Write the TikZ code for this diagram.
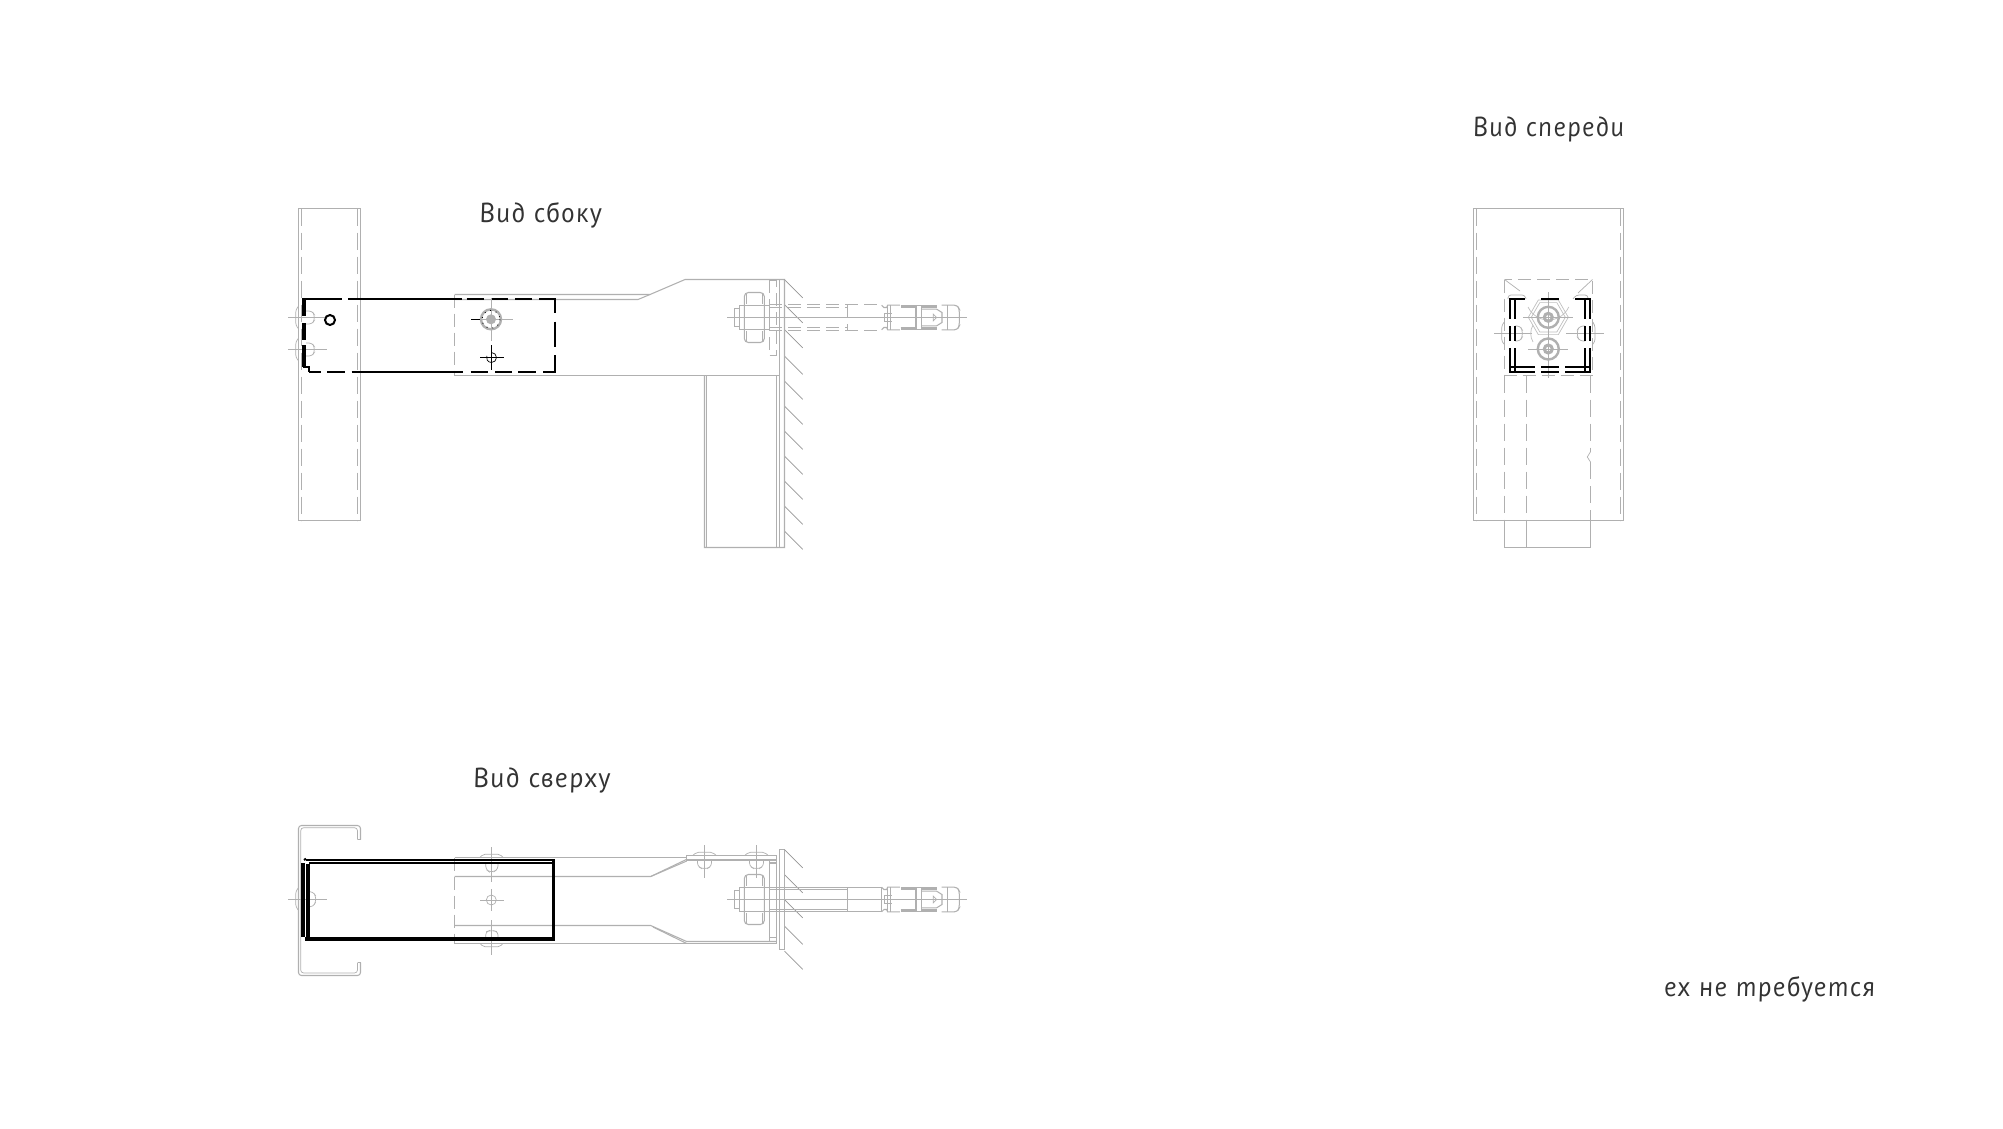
\documentclass[tikz,border=0pt]{standalone}
\usepackage{fontspec}
\newfontfamily\lblfam{PT Sans}[ItalicFeatures={FakeSlant=-0.18,LetterSpace=5}]
\definecolor{gln}{HTML}{B0B0B0}
\definecolor{txt}{HTML}{333333}
\tikzset{
 gl/.style={draw=gln,line width=1.05pt},
 gd/.style={draw=gln,line width=1.05pt,dash pattern=on 17pt off 7pt},
 gs/.style={draw=gln,line width=1.05pt,dash pattern=on 13pt off 6pt},
 gthin/.style={draw=gln,line width=.7pt},
 ht/.style={draw=gln!85!black,line width=.7pt},
 bk/.style={draw=black,line width=2pt},
 lbl/.style={anchor=base west,inner sep=0pt,outer sep=0pt,text=txt,font=\lblfam\itshape\fontsize{27.5}{27.5}\selectfont},
 zoomu/.style={x=0.3333pt,y=-0.3333pt},
}
% expansion anchor, coordinates in 1/3 px, y relative to the axis
\newcommand{\expanchor}{%
 \draw[gl] (785,-37)--(792,-30)--(800,-30)--(803,-37)--(840,-37);
 \draw[gl] (785,37)--(792,30)--(800,30)--(803,37)--(840,37);
 \draw[gl] (793,-12)--(815,-12) (793,12)--(815,12) (793,-12)--(793,12);
 \draw[gl] (803,-37)--(803,37) (812,-37)--(812,37);
 \draw[gl,line width=2.4pt] (842,-33)--(888,-33) (905,-33)--(950,-33);
 \draw[gl,line width=2.4pt] (842,33)--(888,33) (905,33)--(950,33);
 \draw[gl] (888,-37)--(888,37) (905,-37)--(905,37) (888,-37)--(905,-37) (888,37)--(905,37);
 \draw[gl] (905,-25)--(950,-25)--(966,-15)--(966,15)--(950,25)--(905,25);
 \draw[gthin] (940,-10)--(940,10)--(950,0)--cycle;
 \draw[gl,rounded corners=3pt] (965,-37)--(1012,-37)--(1018,-25)--(1018,25)--(1012,37)--(965,37);
 \draw[gl] (982,-37)--(982,37);
}
% nut and bolt end
\newcommand{\nutset}{%
 \draw[gl] (343,-27) rectangle (358,28);
 \draw[gl] (358,-37) rectangle (373,37);
 \draw[gl,rounded corners=4pt] (373,-75) rectangle (433,75);
 \draw[gl] (373,-37)--(433,-37) (373,37)--(433,37);
 \draw[gthin] (378,-72)--(378,-40) (378,40)--(378,72) (428,-72)--(428,-40) (428,40)--(428,72);
 \draw[gl] (433,-37) rectangle (448,37);
}
\begin{document}
\begin{tikzpicture}[x=1pt,y=-1pt]
\useasboundingbox (0,0) rectangle (2003,1128);
\fill[white] (0,0) rectangle (2003,1128);
%% ---------------- SIDE VIEW
\draw[gl] (298.5,208.5) rectangle (360.5,520.5);
\draw[gd] (301.5,208.5)--(301.5,520.5);
\draw[gd] (357.5,208.5)--(357.5,520.5);
% bracket
\draw[gl] (454.5,294.5)--(650,294.5)--(685,279.5)--(784.5,279.5)--(784.5,547.5)--(704.5,547.5)--(704.5,375.5);
\draw[gl] (454.5,299.5)--(638,299.5)--(650,294.5);
\draw[gl] (454.5,375.5)--(779.5,375.5);
\draw[gs] (454.5,294.5)--(454.5,375.5);
\draw[gl] (779.5,279.5)--(779.5,547.5);
\draw[gl] (706.5,375.5)--(706.5,547.5);
\draw[gl] (776.5,375.5)--(776.5,547.5);
\foreach \yy in {279.5,304.5,329.5,356,381,406,431,456,481,506,531}
  \draw[ht] (784.5,\yy)--(802.7,\yy+18.3);
\draw[gl,line width=1.3pt] (784.5,279.5)--(784.5,547.5);
% bolts on column
\foreach \yy in {317.5,349.5}{
 \draw[gl] (288.3,\yy)--(326.7,\yy);
 \draw[gthin,rounded corners=3pt] (298.3,\yy-11)--(295.7,\yy-8)--(295.7,\yy+8)--(298.3,\yy+11);
 \draw[gthin,rounded corners=3pt] (306,\yy-6.5)--(312,\yy-6.5)--(314.3,\yy-3)--(314.3,\yy+3)--(312,\yy+6.5)--(306,\yy+6.5);
}
% large bolt
\draw[gl] (471,319.5)--(512.7,319.5);
\draw[gl] (491.5,298)--(491.5,341);
\draw[gln,line width=2.4pt] (491,319.3) circle (10);
\fill[gln] (491,319.3) circle (5);
\draw[black,line width=.9pt,dash pattern=on .9pt off 5pt] (491,319.3) circle (9);
\draw[black,line width=1pt] (471,319.5)--(480,319.5);
% small bolt
\draw[black,line width=1pt] (480,357.5)--(504,357.5) (491.5,345)--(491.5,370);
\draw[black,line width=.7pt] (491.5,352.5) arc (-90:90:5)  (491.5,362.5) arc (90:200:5);
% black channel
\draw[bk] (330,320) circle (5);
\draw[bk] (304,299)--(341.7,299) (348.3,299)--(461.7,299) (466.7,299)--(484,299) (491.7,299)--(508.3,299) (515,299)--(531.7,299) (539.3,299)--(556,299);
\draw[bk] (309.3,372)--(320.7,372) (327.3,372)--(345,372) (351.7,372)--(463.3,372) (470.7,372)--(488.3,372) (495,372)--(511.7,372) (518.3,372)--(536,372) (543.3,372)--(556,372);
\draw[bk] (555,299)--(555,313.3) (555,321.7)--(555,346.7) (555,355)--(555,372);
\draw[black,line width=4pt] (304,298)--(304,316) (304,323)--(304,340) (304,345)--(304,367);
\draw[bk] (303,367)--(309,367)--(309,372);
%% ---------------- FRONT VIEW
\draw[gl] (1473.5,208.5) rectangle (1623.5,520.5);
\draw[gd] (1476.5,208.5)--(1476.5,520.5);
\draw[gd] (1620.5,208.5)--(1620.5,520.5);
\draw[gs] (1504.5,279.5) rectangle (1592.5,375.5);
\draw[gd] (1504.5,375.5)--(1504.5,520.5);
\draw[gd] (1526.5,375.5)--(1526.5,520.5);
\draw[gd] (1590.5,375.5)--(1590.5,451.7);
\draw[gd] (1590.5,462)--(1590.5,520.5);
\draw[gthin] (1590.5,451.7)--(1587.3,457)--(1590.5,462);
\draw[gl] (1504.5,520.5)--(1504.5,547.5)--(1590.5,547.5)--(1590.5,520.5) (1526.5,520.5)--(1526.5,547.5);
% gussets
\draw[gthin] (1504.5,279.5)--(1520,291) (1592.5,279.5)--(1578,293);
\draw[gthin,rounded corners=3pt] (1508,299)--(1508,295)--(1525,295)--(1526,299);
\draw[gthin,rounded corners=3pt] (1588,299)--(1588,295)--(1576,295)--(1573,299);
% side bolts
\draw[gl] (1494.3,333.5)--(1531.7,333.5) (1566,333.5)--(1604,333.5);
\draw[gthin,rounded corners=3pt] (1504.3,322)--(1501.7,325)--(1501.7,342)--(1504.3,344.3);
\draw[gthin,rounded corners=3pt] (1515,326)--(1520,326)--(1522.3,330)--(1522.3,337)--(1520,341)--(1515,341);
\draw[gthin,rounded corners=3pt] (1592.7,322)--(1595,325)--(1595,342)--(1592.7,344.3);
\draw[gthin,rounded corners=3pt] (1585,326)--(1580,326)--(1577.3,330)--(1577.3,337)--(1580,341)--(1585,341);
% big front bolt
\draw[gthin,gln!80] (1528.3,317.3)--(1538.3,300)--(1558.3,300)--(1568.3,317.3)--(1558.3,334.6)--(1538.3,334.6)--cycle;
\draw[gthin,gln!80] (1531.3,317.3)--(1539.8,302.6)--(1556.8,302.6)--(1565.3,317.3)--(1556.8,332)--(1539.8,332)--cycle;
\draw[gthin,gln!80] (1528,307) arc (155:25:22.5);
\draw[gthin,gln!80] (1533,325) arc (210:150:17);
\draw[gl] (1523.3,317.5)--(1573.3,317.5) (1548.5,292.3)--(1548.5,343.3);
\draw[gln,line width=2.4pt] (1548.3,317.3) circle (10.5);
\draw[gln,line width=3pt] (1548.3,317.3) circle (4);
% small front bolt
\draw[gl] (1528.3,349.5)--(1568.3,349.5) (1548.5,338)--(1548.5,378);
\draw[gln,line width=2.4pt] (1548.3,349) circle (10.5);
\draw[gln,line width=3pt] (1548.3,349) circle (4);
% black channel, front
\foreach \xx in {1510,1515,1585,1590}
  \draw[bk] (\xx,298)--(\xx,319.3) (\xx,326)--(\xx,341) (\xx,348.3)--(\xx,372);
\draw[bk] (1509,299)--(1525,299) (1541,299)--(1559.3,299) (1575,299)--(1591,299);
\foreach \yy in {367,372}
  \draw[bk] (1509,\yy)--(1535,\yy) (1541,\yy)--(1559.3,\yy) (1565,\yy)--(1591,\yy);
%% ---------------- TOP VIEW
\draw[gl,rounded corners=3pt] (360.5,839.5)--(360.5,825.5)--(298.5,825.5)--(298.5,975.5)--(360.5,975.5)--(360.5,962.5);
\draw[gthin,rounded corners=3pt] (357.5,839.5)--(357.5,827.7)--(300.7,827.7)--(300.7,973)--(357.5,973)--(357.5,962.5);
\draw[gl] (357.5,839.5)--(360.5,839.5) (357.5,962.5)--(360.5,962.5);
% bracket
\draw[gl] (454.5,857.5)--(686.7,857.5);
\draw[gl] (454.5,876.5)--(650.7,876.5)--(686.7,859.3);
\draw[gl] (650.7,876.5)--(686.7,861);
\draw[gl] (454.5,925.5)--(650.7,925.5)--(686.7,941.5)--(776.5,941.5);
\draw[gl] (653,927)--(686.7,943.5);
\draw[gl] (454.5,943.5)--(776.5,943.5)--(776.5,860);
\draw[gs] (454.5,857.5)--(454.5,943.5);
\draw[gl,fill=white] (686.7,855.5) rectangle (776.5,860);
\draw[gl] (769.5,860)--(769.5,941.5);
\draw[gl] (769.5,937.5)--(776.5,937.5) (769.5,863)--(776.5,863);
\draw[gl] (779.5,849.5) rectangle (784.5,949.5);
\foreach \yy in {849.5,874.5,899.5,926,951}
  \draw[ht] (784.5,\yy)--(802.7,\yy+18.3);
\draw[gl,line width=1.3pt] (784.5,849.5)--(784.5,949.5);
% top flange bolts
\foreach \xx in {704.5,756.5}{
 \draw[gl] (\xx,845)--(\xx,878.3);
 \draw[gthin,rounded corners=2pt] (\xx-11.5,855.3)--(\xx-8,852.3)--(\xx+8,852.3)--(\xx+11.5,855.3);
 \draw[gthin,rounded corners=3pt] (\xx-7,860)--(\xx-7,866)--(\xx-3,868.5)--(\xx+3,868.5)--(\xx+7,866)--(\xx+7,860);
}
% central bolts of bracket
\draw[gl] (491.5,847.3)--(491.5,881.7) (491.5,920)--(491.5,955);
\draw[gthin,rounded corners=2pt] (480,857.3)--(483,854.3)--(500,854.3)--(503,857.3);
\draw[gthin,rounded corners=3pt] (485.7,862)--(485.7,869)--(489,871.7)--(494,871.7)--(498,869)--(498,862);
\draw[gthin,rounded corners=2pt] (480,943.3)--(483,946.7)--(500,946.7)--(503,943.3);
\draw[gthin,rounded corners=3pt] (485.7,938)--(485.7,932)--(489,930.7)--(494,930.7)--(498,932)--(498,938);
\draw[gl] (480,900.5)--(504,900.5) (491.5,889.3)--(491.5,910.7);
\draw[gthin] (491.3,900) circle (5);
% bolt at column
\draw[gl] (288.3,899.5)--(326.7,899.5);
\draw[gthin,rounded corners=3pt] (298.3,888)--(295.7,891)--(295.7,907)--(298.3,910);
\draw[gthin,rounded corners=3pt] (310,891.7)--(313,891.7)--(315.7,896)--(315.7,902)--(313,906.7)--(310,906.7);
% black channel, top
\draw[bk] (306,860)--(555,860);
\draw[bk] (309,863)--(555,863);
\draw[bk] (304,860)--(306,858.7);
\draw[black,line width=4pt] (303,863)--(303,937);
\draw[black,line width=4pt] (308,864)--(308,937);
\draw[black,line width=4pt] (305,938.5)--(555,938.5);
\draw[black,line width=3pt] (553.5,859)--(553.5,940);
%% ---------------- FASTENERS TO THE WALL
\begin{scope}[shift={(620,317.5)},zoomu]
 \draw[gl] (322,0)--(1040,0);
 \nutset
 \draw[gs] (448,-112) rectangle (470,115);
 \foreach \yy in {-39,39} \draw[gs] (448,\yy)--(785,\yy);
 \foreach \yy in {-30,30} \draw[gs] (448,\yy)--(683,\yy);
 \draw[gs] (683,-37)--(683,37);
 \expanchor
\end{scope}
\begin{scope}[shift={(620,899.5)},zoomu]
 \draw[gl] (322,0)--(1040,0);
 \nutset
 \foreach \yy in {-37,37} \draw[gl] (448,\yy)--(785,\yy);
 \foreach \yy in {-30,30} \draw[gl] (448,\yy)--(683,\yy);
 \draw[gl] (683,-37)--(683,37) (785,-37)--(785,37);
 \expanchor
\end{scope}
%% ---------------- LABELS
\node[lbl] (lside) at (480.5,222) {Вид сбоку};
\node[lbl] (lfront) at (1474,136) {\scalebox{0.97}[1]{Вид спереди}};
\node[lbl] (ltop) at (474.3,787.3) {\scalebox{1.015}[1]{Вид сверху}};
\node[lbl] (lnote) at (1665,996.7) {\scalebox{0.985}[1]{ех не требуется}};
\end{tikzpicture}
\end{document}
